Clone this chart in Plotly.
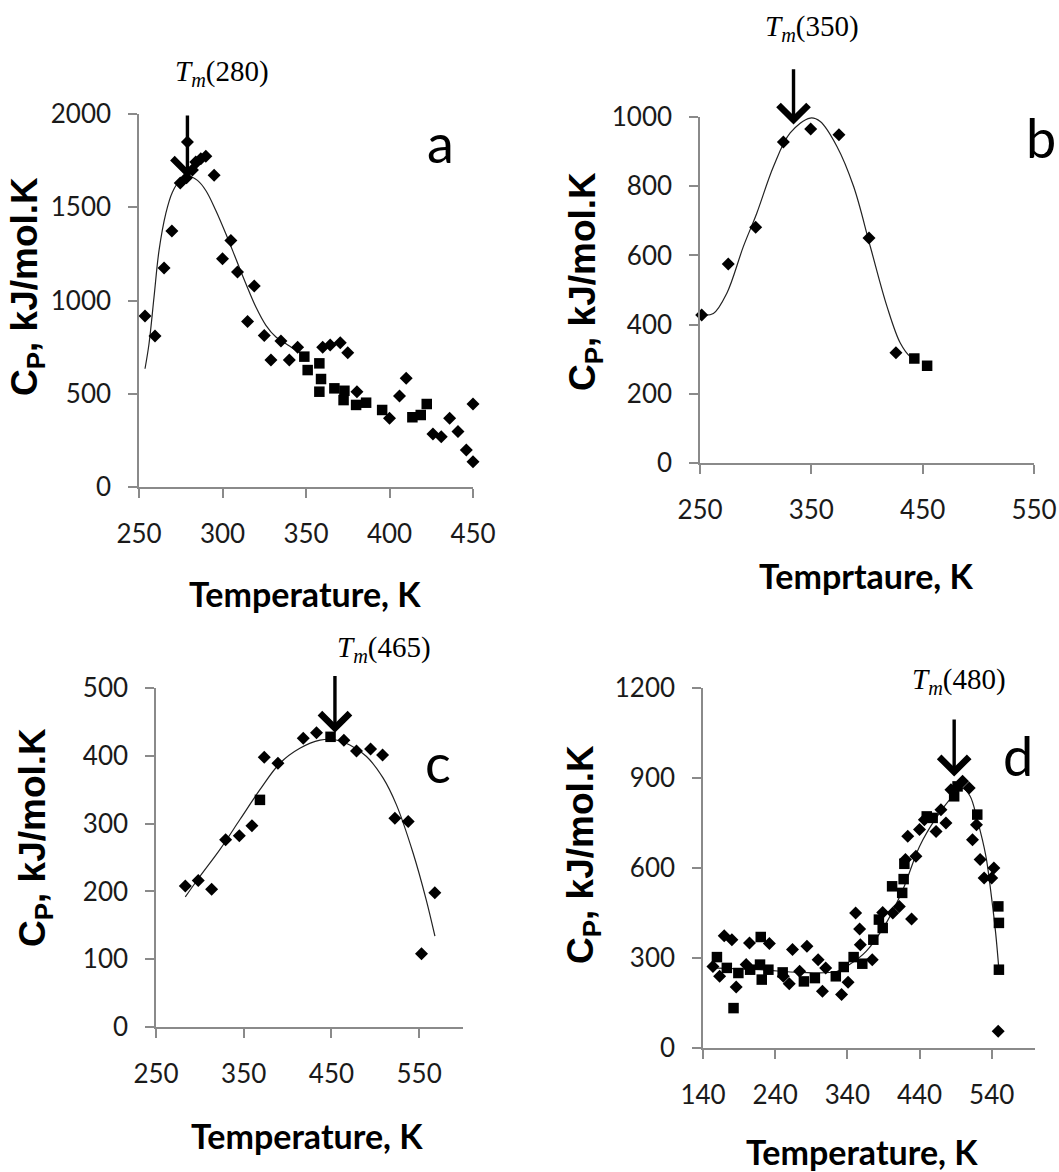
import plotly.graph_objects as go

W, H = 1059, 1172

# ---------------- data ----------------
# panel a
a_dia_x = [253.6, 259.6, 265, 269.7, 274.7, 278.5, 279, 282, 284, 287, 290, 295, 300, 305, 309, 315, 319,
           325, 329, 335, 340, 345, 360, 364.5, 370.5, 375, 380.5, 400, 406, 410, 426, 431, 436, 441, 446, 450, 450]
a_dia_y = [917, 810, 1174, 1372, 1630, 1658, 1850, 1700, 1742, 1760, 1773, 1671, 1224, 1322, 1153, 888, 1078,
           812, 681, 783, 681, 749, 749, 761, 774, 720, 511, 368, 488, 583, 284, 270, 368, 297, 198, 445, 136]
a_sq_x = [349, 351, 358, 359, 358, 367, 373, 372.5, 380, 386, 395.6, 413.7, 418.7, 422.3]
a_sq_y = [699, 627, 663, 579, 511, 529, 516, 466, 440, 452, 413, 374, 386, 445]
a_fit_x = [253.6, 256, 259, 262, 266, 270, 275, 280, 285, 290, 296, 302, 308, 314, 320, 326, 332, 338, 344, 349]
a_fit_y = [634, 768, 1019, 1269, 1465, 1581, 1648, 1665, 1644, 1590, 1483, 1358, 1224, 1090, 965, 867, 804, 768, 733, 706]

# panel b
b_dia_x = [251.5, 275.4, 300, 324.9, 349.4, 374.8, 401.8, 426]
b_dia_y = [428, 575, 681, 928, 965, 949, 650, 319]
b_sq_x = [442.5, 454]
b_sq_y = [302, 281]
b_fit_x = [251.5, 262, 274, 289, 301, 316, 331, 349, 358, 373, 388, 403, 418, 430, 439, 445]
b_fit_y = [428, 432, 490, 626, 722, 857, 954, 997, 987, 915, 799, 625, 452, 346, 307, 299]

# panel c
c_dia_x = [283.4, 298.2, 313.4, 329.4, 345, 359.4, 373.4, 389, 417.9, 433, 464.2, 478.6, 494.6, 508.3,
           522.3, 537.5, 552.7, 567.9]
c_dia_y = [208, 216, 203, 276, 282, 297, 398, 389, 426, 434, 423, 407, 410, 401, 308, 303, 108, 198]
c_sq_x = [368.5, 449]
c_sq_y = [335, 428]
c_fit_x = [283.4, 300, 323, 345.7, 368.5, 391.3, 414, 437, 452, 471, 490, 509, 524, 543, 558, 568]
c_fit_y = [192, 222, 262, 306, 350, 389, 411, 423, 424, 416, 399, 367, 328, 257, 188, 134]

# panel d
d_dia_x = [153.8, 163, 169.4, 180, 186, 199.8, 204.4, 232, 251.3, 259.5, 264, 273.9, 284, 299.5, 305.5, 310,
           332, 341, 351.5, 357, 358, 374.5, 389, 403, 412, 420.5, 423.7, 429, 435, 440, 446.7, 462.9,
           469.7, 476.6, 483.5, 499.6, 508.8, 518.9, 513.4, 524, 529.5, 540, 543, 549]
d_dia_y = [272, 239, 374, 361, 203, 278, 350, 348, 239, 214, 328, 256, 339, 294, 189, 267,
           178, 219, 450, 397, 344, 294, 452, 450, 472, 628, 706, 430, 639, 728, 761, 722,
           794, 750, 861, 889, 867, 744, 694, 628, 567, 567, 600, 56]
d_sq_x = [159.3, 173, 189, 182.3, 205.3, 220, 219, 221.4, 230.6, 250.4, 279.8, 295, 324, 335, 348.7, 360.7,
          376, 383.7, 389, 402, 416, 418, 419, 450, 458.2, 488, 492.7, 520, 549.2, 550, 550]
d_sq_y = [303, 267, 250, 133, 261, 370, 278, 228, 261, 252, 222, 233, 239, 270, 303, 281,
          361, 428, 400, 539, 517, 563, 614, 772, 767, 839, 872, 778, 472, 417, 261]
d_fit_x = [150, 219, 274, 325, 343, 366, 394, 417, 440, 463, 486, 500, 510, 520, 532, 539, 545.5, 550]
d_fit_y = [267, 261, 252, 255, 278, 322, 417, 528, 672, 767, 839, 865, 840, 761, 639, 517, 383, 261]

# Tm arrows: (x, tail y, tip y) and labels
tm_labels = ["280", "350", "465", "480"]
tm_arrow_x = [279, 334, 454, 488]
tm_arrow_top = [2000, 1142, 520, 1100]
tm_arrow_tip = [1658, 978, 434, 905]

panel_letters = ["a", "b", "c", "d"]
x_titles = ["Temperature, K", "Temprtaure, K", "Temperature, K", "Temperature, K"]
x_ranges = [[250, 450], [250, 550], [250, 600], [140, 600]]
x_ticks = [[250, 300, 350, 400, 450], [250, 350, 450, 550], [250, 350, 450, 550], [140, 240, 340, 440, 540]]
y_ranges = [[0, 2000], [0, 1000], [0, 500], [0, 1200]]
y_dticks = [500, 200, 100, 300]

# ---------------- layout geometry (pixels) ----------------
boxes = [  # left, right, top, bottom
    (139, 473, 114, 487),
    (700, 1034, 117, 463),
    (156, 463, 688, 1027),
    (703, 1035, 688, 1048),
]
ytitle_pos = [(27, 287), (585, 282), (35, 838), (583, 855)]
xtitle_pos = [(305, 593), (866, 575), (307, 1135), (862, 1151)]
letter_pos = [(440, 142), (1041, 138), (438, 762), (1018, 755)]
tm_text_pos = [(222, 73), (812, 28), (384, 649), (959, 681)]


def px(x):
    return x / W


def py(y):
    return 1 - y / H


panels = [
    (a_dia_x, a_dia_y, a_sq_x, a_sq_y, a_fit_x, a_fit_y),
    (b_dia_x, b_dia_y, b_sq_x, b_sq_y, b_fit_x, b_fit_y),
    (c_dia_x, c_dia_y, c_sq_x, c_sq_y, c_fit_x, c_fit_y),
    (d_dia_x, d_dia_y, d_sq_x, d_sq_y, d_fit_x, d_fit_y),
]

fig = go.Figure()
AX_COL = "#8a8a8a"
TICK_FONT = dict(family="Lato, Carlito, sans-serif", size=26, color="#1a1a1a")

annotations = []
for i, (dx, dy, sx, sy, fx, fy) in enumerate(panels):
    n = "" if i == 0 else str(i + 1)
    xa, ya = "x" + n, "y" + n
    fig.add_trace(go.Scatter(x=fx, y=fy, mode="lines", line=dict(color="#222", width=1.2, shape="spline", smoothing=1.0),
                             xaxis=xa, yaxis=ya, showlegend=False, hoverinfo="skip"))
    fig.add_trace(go.Scatter(x=dx, y=dy, mode="markers", marker=dict(symbol="diamond", size=10, color="black"),
                             xaxis=xa, yaxis=ya, showlegend=False, cliponaxis=False))
    fig.add_trace(go.Scatter(x=sx, y=sy, mode="markers", marker=dict(symbol="square", size=10.5, color="black"),
                             xaxis=xa, yaxis=ya, showlegend=False, cliponaxis=False))
    l, r, t, b = boxes[i]
    common = dict(showgrid=False, zeroline=False, showline=True, linecolor=AX_COL, linewidth=1.5,
                  ticks="outside", ticklen=9, tickcolor=AX_COL, tickwidth=1.5, tickfont=TICK_FONT,
                  automargin=False)
    fig.layout["xaxis" + n] = dict(domain=[px(l), px(r)], range=x_ranges[i], tickvals=x_ticks[i],
                                   anchor=ya, ticklabelstandoff=14, **common)
    fig.layout["yaxis" + n] = dict(domain=[py(b), py(t)], range=y_ranges[i], dtick=y_dticks[i], tick0=0,
                                   anchor=xa, ticklabelstandoff=12, **common)
    # y title
    yx, yy = ytitle_pos[i]
    annotations.append(dict(x=px(yx), y=py(yy), xref="paper", yref="paper", textangle=-90, showarrow=False,
                            text="<b>C<sub>P</sub>, kJ/mol.K</b>",
                            font=dict(family="Liberation Sans, Arial, sans-serif", size=37, color="black"),
                            xanchor="center", yanchor="middle"))
    # x title
    tx, ty = xtitle_pos[i]
    annotations.append(dict(x=px(tx), y=py(ty), xref="paper", yref="paper", showarrow=False,
                            text="<b>" + x_titles[i] + "</b>",
                            font=dict(family="Lato, sans-serif", size=34, color="black"),
                            xanchor="center", yanchor="middle"))
    # panel letter
    lx, ly = letter_pos[i]
    annotations.append(dict(x=px(lx), y=py(ly), xref="paper", yref="paper", showarrow=False,
                            text=panel_letters[i], font=dict(family="Lato, sans-serif", size=54, color="black"),
                            xanchor="center", yanchor="middle"))
    # Tm label
    mx, my = tm_text_pos[i]
    annotations.append(dict(x=px(mx), y=py(my), xref="paper", yref="paper", showarrow=False,
                            text="<i>T</i><sub><i>m</i></sub>(" + tm_labels[i] + ")",
                            font=dict(family="Liberation Serif, Times New Roman, serif", size=29, color="black"),
                            xanchor="center", yanchor="middle"))
    # Tm arrow
    annotations.append(dict(x=tm_arrow_x[i], y=tm_arrow_tip[i], ax=tm_arrow_x[i], ay=tm_arrow_top[i],
                            xref=xa, yref=ya, axref=xa, ayref=ya, text="", showarrow=True,
                            arrowhead=4, arrowsize=1.7, arrowwidth=3.4, arrowcolor="black"))

fig.update_layout(template="none", width=W, height=H,
                  margin=dict(l=0, r=0, t=0, b=0, autoexpand=False), paper_bgcolor="white",
                  plot_bgcolor="white", annotations=annotations)

fig.write_html("out.html", config={"displayModeBar": False},
               post_script="document.body.style.margin='0px';document.body.style.overflow='hidden';")
